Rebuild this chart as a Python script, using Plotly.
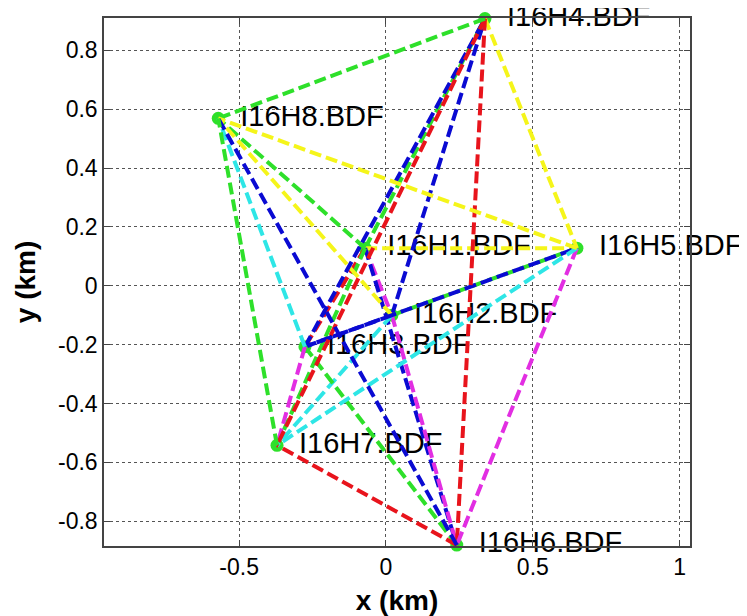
import plotly.graph_objects as go

# Station names and coordinates (km)
stations = ["I16H1.BDF", "I16H2.BDF", "I16H3.BDF", "I16H4.BDF",
            "I16H5.BDF", "I16H6.BDF", "I16H7.BDF", "I16H8.BDF"]
sta_x = [-0.071, 0.020, -0.276, 0.337, 0.650, 0.241, -0.371, -0.571]
sta_y = [0.128, -0.100, -0.207, 0.908, 0.128, -0.881, -0.542, 0.569]

# Station pairs (indices into stations) and their line colour codes
edge_from = [0, 0, 0, 0, 0, 0, 0,
             1, 1, 1, 1, 1, 1,
             2, 2, 2, 2, 2,
             3, 3, 3, 3,
             4, 4, 4,
             5, 5,
             6]
edge_to = [1, 2, 3, 4, 5, 6, 7,
           2, 3, 4, 5, 6, 7,
           3, 4, 5, 6, 7,
           4, 5, 6, 7,
           5, 6, 7,
           6, 7,
           7]
edge_color = ["m", "r", "g", "y", "b", "g", "g",
              "b", "b", "g", "m", "c", "y",
              "b", "b", "g", "m", "c",
              "y", "r", "r", "g",
              "m", "c", "y",
              "r", "b",
              "g"]

x_ticks = [-0.5, 0, 0.5, 1]
y_ticks = [-0.8, -0.6, -0.4, -0.2, 0, 0.2, 0.4, 0.6, 0.8]
x_range = [-0.96, 1.035]
y_range = [-0.884, 0.91]
label_offset = 0.075

palette = {"r": "#e8141c", "g": "#2ee02a", "b": "#0a0ad2",
           "c": "#2ee6e6", "m": "#e22ee2", "y": "#f5f51a"}

fig = go.Figure()

# station markers
fig.add_trace(go.Scatter(
    x=sta_x, y=sta_y, mode="markers",
    marker=dict(color="#2ee02a", size=13, line=dict(width=0)),
    cliponaxis=False, showlegend=False, hoverinfo="skip"))

# station labels
fig.add_trace(go.Scatter(
    x=[v + label_offset for v in sta_x], y=sta_y, mode="text",
    text=stations, textposition="middle right",
    textfont=dict(family="Arial", size=29, color="black"),
    cliponaxis=False, showlegend=False, hoverinfo="skip"))

# connecting dashed lines
for a, b, c in zip(edge_from, edge_to, edge_color):
    fig.add_trace(go.Scatter(
        x=[sta_x[a], sta_x[b]], y=[sta_y[a], sta_y[b]], mode="lines",
        line=dict(color=palette[c], width=4, dash="12px,5px"),
        cliponaxis=False, showlegend=False, hoverinfo="skip"))

axis_common = dict(
    showgrid=True, gridcolor="#555555", griddash="dot", gridwidth=1,
    zeroline=False, showline=True, linecolor="#444444", linewidth=1.5,
    mirror="ticks", ticks="inside", ticklen=6, tickcolor="#444444",
    tickfont=dict(family="Arial", size=23, color="black"),
    automargin=False,
)

fig.update_xaxes(range=x_range, tickvals=x_ticks,
                 ticktext=["-0.5", "0", "0.5", "1"],
                 title=dict(text="<b>x (km)</b>", standoff=12,
                            font=dict(family="Arial", size=28, color="black")),
                 **axis_common)
fig.update_yaxes(range=y_range, tickvals=y_ticks,
                 ticktext=["-0.8", "-0.6", "-0.4", "-0.2", "0", "0.2", "0.4", "0.6", "0.8"],
                 title=dict(text="<b>y (km)</b>", standoff=14,
                            font=dict(family="Arial", size=28, color="black")),
                 **axis_common)

# page body has an 8px default margin, so the figure is sized to fit
fig.update_layout(
    width=739, height=608,
    margin=dict(l=96, r=57, t=10, b=70),
    paper_bgcolor="white", plot_bgcolor="white",
    showlegend=False,
)

fig.write_html("out.html")
